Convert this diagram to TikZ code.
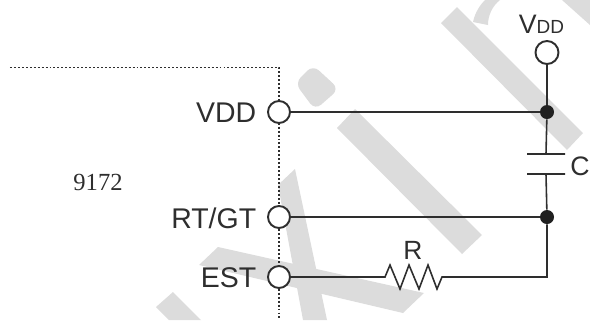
\documentclass[tikz,border=0pt]{standalone}
\usepackage{fontspec}
\setmainfont{Liberation Sans}
\newfontfamily\chipfont{Liberation Serif}
\usetikzlibrary{graphs}
\definecolor{markgray}{HTML}{DCDCDC}
\definecolor{inkgray}{HTML}{2E2E2E}
\tikzset{
  pin/.style={circle,draw=inkgray,fill=white,line width=1.1pt,minimum size=0.44cm,inner sep=0pt},
  dot/.style={circle,fill=inkgray!70!black,minimum size=0.28cm,inner sep=0pt},
  wire/.style={draw=inkgray,line width=0.9pt},
  plate/.style={draw=inkgray,line width=0.8pt,minimum width=0.76cm,minimum height=0pt,inner sep=0pt,outer sep=0pt},
  bound/.style={draw=inkgray,line width=1.1pt,dash pattern=on 1.1pt off 1.15pt},
  lbl/.style={text=inkgray,font=\fontsize{16.2}{18}\selectfont,inner sep=0pt}
}
\begin{document}
\begin{tikzpicture}
  \useasboundingbox (0,0) rectangle (11.8,-6.4);
  \fill[markgray] (8.82,-0.46) -- (9.14,-0.14) -- (11.66,-2.66) -- (11.34,-3.0) -- cycle;
  \fill[markgray] (9.46,-0.44) .. controls (9.5,-0.25) and (9.6,-0.1) .. (9.7,0) -- (10.0,0) .. controls (9.85,-0.12) and (9.76,-0.3) .. (9.76,-0.5) -- cycle;
  \fill[markgray] (11.24,0) -- (11.8,0) -- (11.8,-0.5) -- cycle;
  \fill[markgray] (6.74,-2.56) -- (7.1,-2.18) -- (9.64,-4.7) -- (9.24,-5.08) -- cycle;
  \fill[markgray,rounded corners=0.16cm] (5.9,-1.66) -- (6.26,-1.3) -- (6.78,-1.78) -- (6.3,-2.2) -- cycle;
  \fill[markgray] (5.56,-3.7) -- (5.9,-3.38) -- (6.54,-6.4) -- (6.06,-6.4) -- cycle;
  \fill[markgray] (3.98,-5.3) -- (4.36,-4.94) -- (8.48,-5.86) -- (8.06,-6.26) -- cycle;
  \fill[markgray] (3.12,-6.14) -- (3.46,-5.84) -- (4.02,-6.4) -- (3.38,-6.4) -- cycle;
  \coordinate (boxl) at (0.2,-1.35);
  \coordinate (boxc) at (5.58,-1.35);
  \coordinate (boxb) at (5.58,-6.4);
  \draw[bound] (boxl) -- (boxc) -- (boxb);
  \node[pin] (pinvdd) at (5.58,-2.24) {};
  \node[pin] (pinrt) at (5.58,-4.34) {};
  \node[pin] (pinest) at (5.58,-5.54) {};
  \node[pin,minimum size=0.46cm] (pintop) at (10.94,-1.05) {};
  \node[dot] (dota) at (10.94,-2.24) {};
  \node[dot] (dotb) at (10.94,-4.34) {};
  \node[plate] (capa) at (10.92,-3.08) {};
  \node[plate] (capb) at (10.92,-3.48) {};
  \coordinate (resl) at (7.7,-5.54);
  \coordinate (resr) at (8.84,-5.54);
  \coordinate (bend) at (10.94,-5.54);
  \node[lbl,anchor=east] (lblvdd) at (5.13,-2.25) {VDD};
  \node[lbl,anchor=east] (lblrt) at (5.13,-4.36) {RT/GT};
  \node[lbl,anchor=east] (lblest) at (5.13,-5.56) {EST};
  \node[lbl,font=\chipfont\fontsize{14}{15}\selectfont] (lblchip) at (1.96,-3.64) {9172};
  \node[lbl,font=\fontsize{15.2}{17}\selectfont] (lblcap) at (11.6,-3.32) {C};
  \node[lbl,font=\fontsize{15}{17}\selectfont] (lblres) at (8.26,-5.0) {R};
  \node[lbl,font=\fontsize{15.2}{17}\selectfont] (lbltop) at (10.83,-0.48) {V\fontsize{10.8}{12}\selectfont DD};
  \graph{(pintop) --[wire] (dota)};
  \graph{(dota) --[wire] (capa)};
  \graph{(capb) --[wire] (dotb)};
  \graph{(pinvdd) --[wire] (dota)};
  \graph{(pinrt) --[wire] (dotb)};
  \draw[wire] (pinest) -- (resl) -- ++(0.1,0.24) -- ++(0.2,-0.48) -- ++(0.18,0.48) -- ++(0.2,-0.48)
    -- ++(0.18,0.48) -- ++(0.18,-0.48) -- (resr) -- (bend) -- (dotb);
\end{tikzpicture}
\end{document}
